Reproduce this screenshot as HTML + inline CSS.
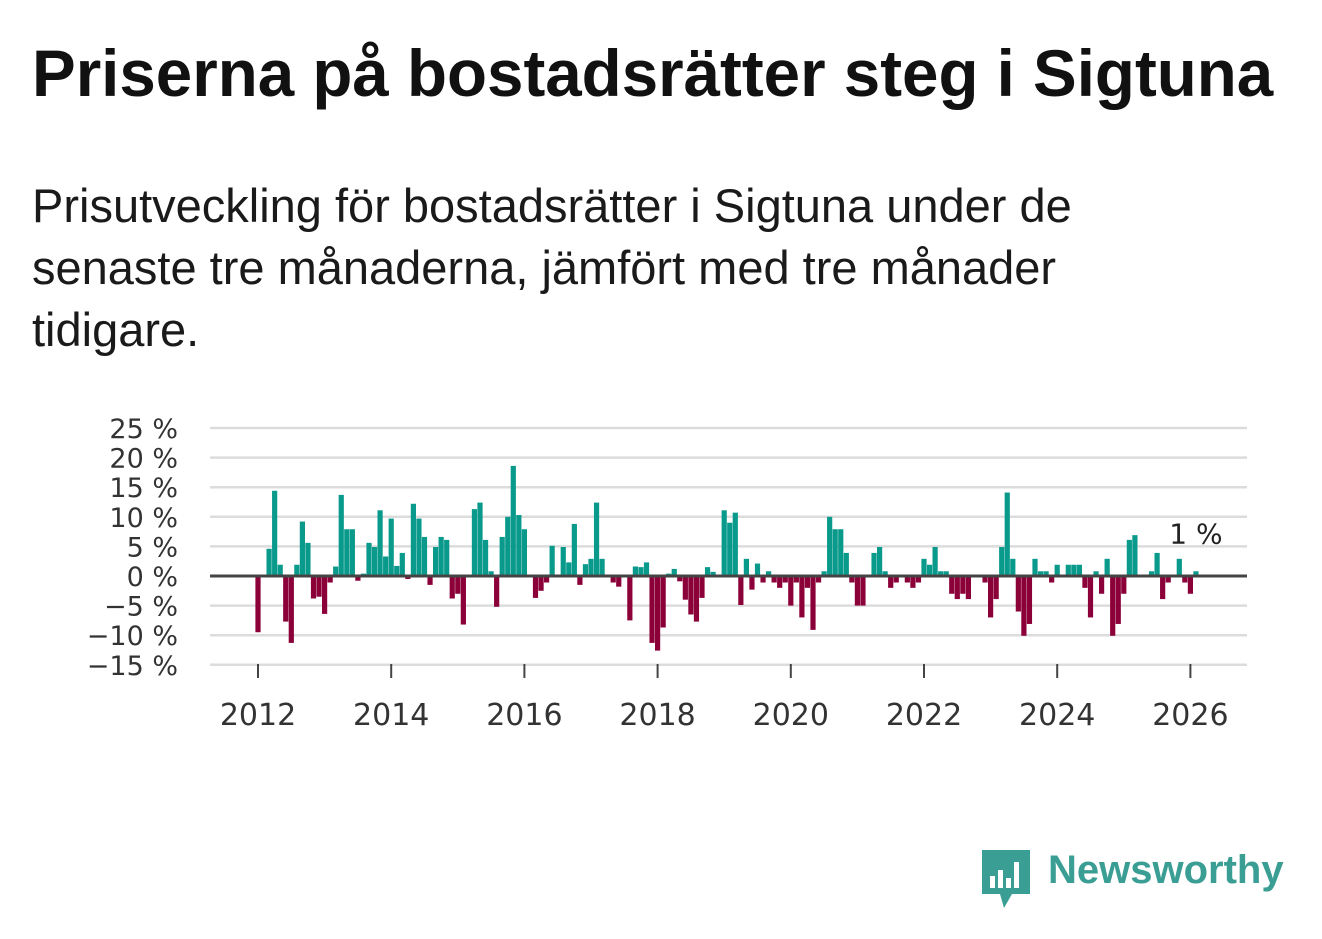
<!DOCTYPE html>
<html><head><meta charset="utf-8">
<style>
body{margin:0;background:#fff;width:1322px;height:939px;overflow:hidden;font-family:"Liberation Sans","DejaVu Sans",sans-serif;}
h1{position:absolute;left:32px;top:36px;margin:0;font-size:65.5px;line-height:76px;font-weight:bold;color:#111;white-space:nowrap;}
p.sub{position:absolute;left:32px;top:175px;margin:0;font-size:47px;line-height:62px;color:#1a1a1a;width:1110px;}
svg{position:absolute;left:0;top:0;}
.logo{position:absolute;left:982px;top:850px;}
.logotext{position:absolute;left:1048px;top:848px;font-size:40px;font-weight:bold;color:#3b9e94;}
</style></head><body>
<h1>Priserna på bostadsrätter steg i Sigtuna</h1>
<p class="sub">Prisutveckling för bostadsrätter i Sigtuna under de senaste tre månaderna, jämfört med tre månader tidigare.</p>
<svg id="chart" width="1322" height="939"></svg>
<svg class="logo" width="50" height="62" viewBox="0 0 50 62">
<path d="M0 0H48V44H30L22 58L18 44H0Z" fill="#3b9e94"/>
<rect x="8" y="26" width="5" height="12" fill="#fff"/><rect x="16" y="20" width="5" height="18" fill="#fff"/><rect x="24" y="28" width="5" height="10" fill="#fff"/><rect x="32" y="12" width="5" height="26" fill="#fff"/>
</svg>
<div class="logotext">Newsworthy</div>
<script>
const startYear = 2012;
const values = [-9.5,0,4.6,14.4,1.9,-7.7,-11.3,1.9,9.2,5.6,-3.8,-3.5,
-6.4,-1.1,1.6,13.7,7.9,7.9,-0.8,0.4,5.6,4.9,11.1,3.3,
9.7,1.7,3.9,-0.5,12.2,9.7,6.6,-1.5,4.9,6.6,6.1,-3.8,
-3.0,-8.2,0,11.3,12.4,6.1,0.8,-5.2,6.6,10,18.6,10.3,
7.9,0.2,-3.7,-2.5,-1.1,5.1,0,4.9,2.3,8.8,-1.5,2.0,
2.9,12.4,2.9,0,-1.1,-1.8,0,-7.5,1.6,1.5,2.3,-11.3,
-12.6,-8.7,0.4,1.2,-0.9,-4.0,-6.5,-7.7,-3.7,1.5,0.7,0,
11.1,9.0,10.7,-4.9,2.9,-2.3,2.1,-1.1,0.8,-1.1,-2.0,-1.1,
-5.0,-1.1,-7.0,-2.0,-9.1,-1.1,0.8,10.0,7.9,7.9,3.9,-1.1,
-5.0,-5.0,0,3.9,4.9,0.8,-2.0,-1.1,0,-1.1,-2.0,-1.1,
2.9,1.9,4.9,0.8,0.8,-3.0,-3.9,-3.0,-3.9,0,0,-1.1,
-7.0,-3.9,4.9,14.1,2.9,-6.0,-10.1,-8.1,2.9,0.8,0.8,-1.1,
1.9,0,1.9,1.9,1.9,-2.0,-7.0,0.8,-3.0,2.9,-10.1,-8.1,
-3.0,6.1,6.9,0,0,0.8,3.9,-3.9,-1.1,0,2.9,-1.1,
-3.0,0.8];
const yTicks = [25,20,15,10,5,0,-5,-10,-15];
const yTickLabels = ["25 %","20 %","15 %","10 %","5 %","0 %","−5 %","−10 %","−15 %"];
const xTicks = [2012,2014,2016,2018,2020,2022,2024,2026];
const lastLabel = "1 %";

const NS="http://www.w3.org/2000/svg";
const svg=document.getElementById('chart');
const plotL=210, plotR=1247;
const FONT='DejaVu Sans, sans-serif';
function y(v){return 576 - v*5.92;}
function x(monthIndex){return 258 + monthIndex*(66.6/12);}
function el(tag,attrs,parent){const e=document.createElementNS(NS,tag);for(const k in attrs)e.setAttribute(k,attrs[k]);(parent||svg).appendChild(e);return e;}

yTicks.forEach((t,i)=>{
  const g=el('line',{x1:plotL,x2:plotR,y1:y(t),y2:y(t),stroke:'#dcdcdc','stroke-width':2.5});
  
  
  const tx=el('text',{x:178,y:y(t)+10,'text-anchor':'end','font-size':27,fill:'#333','font-family':FONT});
  tx.textContent=yTickLabels[i];
  
  
});
xTicks.forEach(yr=>{
  const xi=x((yr-startYear)*12);
  const tk=el('line',{x1:xi,x2:xi,y1:664,y2:678,stroke:'#444','stroke-width':2});
  
  
  const tx=el('text',{x:xi,y:725,'text-anchor':'middle','font-size':30,fill:'#333','font-family':FONT});
  tx.textContent=yr;
  
  
});
values.forEach((v,i)=>{
  if(v===0) return;
  const xc=x(i);
  const r=el('rect',{x:xc-2.6,width:5.2,y:Math.min(y(v),y(0)),height:Math.abs(y(v)-y(0)),fill:v>0?'#0a9a8c':'#8b0039'});
  
  
});
const zl=el('line',{x1:plotL,x2:plotR,y1:y(0),y2:y(0),stroke:'#444','stroke-width':3});


const li=values.length-1;
const lb=el('text',{x:x(li),y:y(values[li])-28,'text-anchor':'middle','font-size':28,fill:'#222','font-family':FONT});
lb.textContent=lastLabel;


</script>
</body></html>
